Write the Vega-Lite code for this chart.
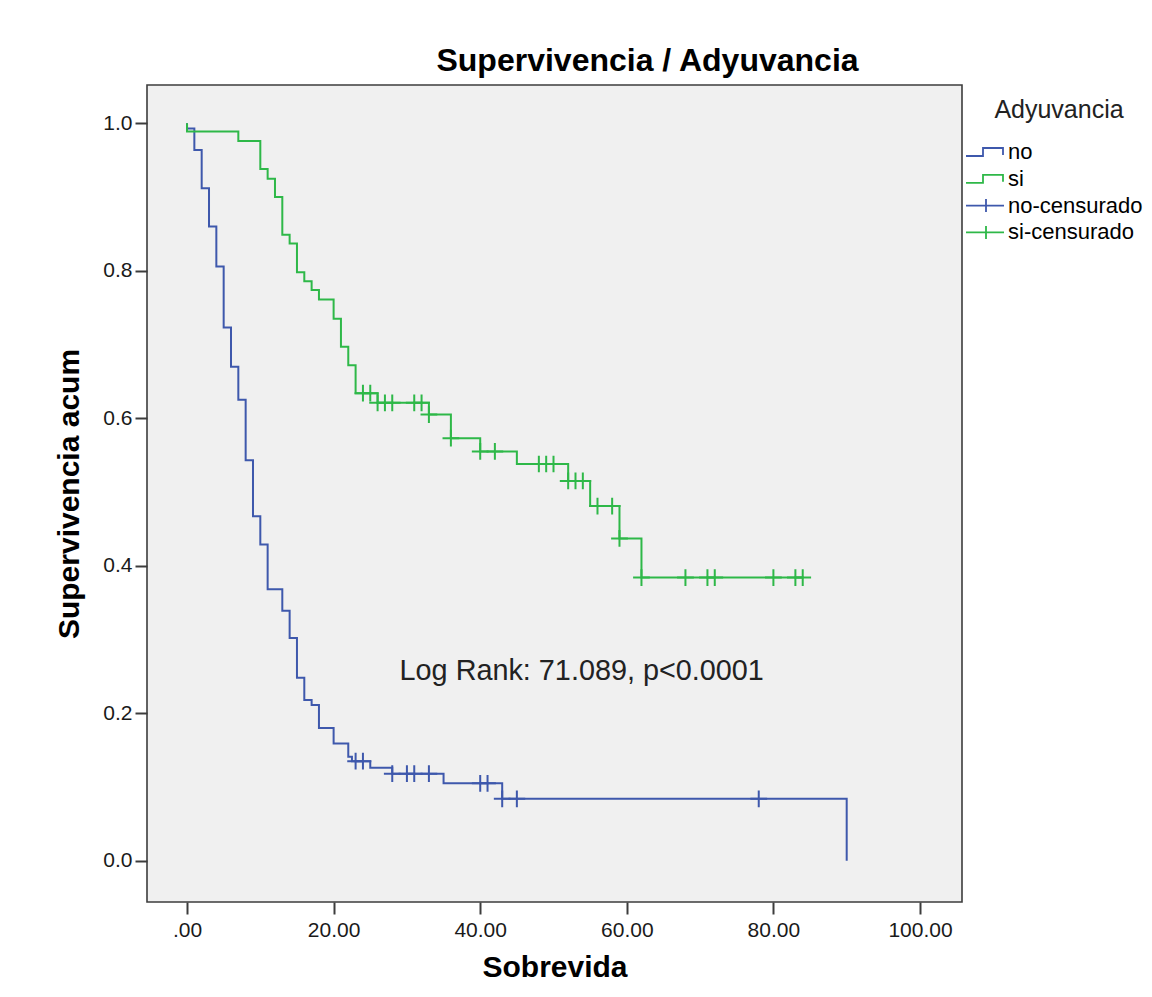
{
  "$schema": "https://vega.github.io/schema/vega-lite/v6.json",
  "width": 815,
  "height": 817,
  "autosize": {"type": "none"},
  "padding": {"left": 147, "top": 85, "right": 190, "bottom": 95},
  "background": "white",
  "config": {
    "view": {"fill": "#f0f0f0", "stroke": "#3c3c3c", "strokeWidth": 1.6},
    "font": "Liberation Sans"
  },
  "title": {
    "text": "Supervivencia / Adyuvancia",
    "fontSize": 32,
    "font": "Liberation Sans",
    "fontWeight": "bold",
    "color": "black",
    "anchor": "middle",
    "dx": 93,
    "offset": 7
  },
  "datasets": {
    "curva": [
      {"t": 0, "S": 1.0, "serie": "no"},
      {"t": 0, "S": 0.993, "serie": "no"},
      {"t": 1, "S": 0.964, "serie": "no"},
      {"t": 2, "S": 0.912, "serie": "no"},
      {"t": 3, "S": 0.86, "serie": "no"},
      {"t": 4, "S": 0.806, "serie": "no"},
      {"t": 5, "S": 0.723, "serie": "no"},
      {"t": 6, "S": 0.67, "serie": "no"},
      {"t": 7, "S": 0.625, "serie": "no"},
      {"t": 8, "S": 0.543, "serie": "no"},
      {"t": 9, "S": 0.467, "serie": "no"},
      {"t": 10, "S": 0.429, "serie": "no"},
      {"t": 11, "S": 0.368, "serie": "no"},
      {"t": 13, "S": 0.339, "serie": "no"},
      {"t": 14, "S": 0.302, "serie": "no"},
      {"t": 15, "S": 0.248, "serie": "no"},
      {"t": 16, "S": 0.218, "serie": "no"},
      {"t": 17, "S": 0.211, "serie": "no"},
      {"t": 18, "S": 0.18, "serie": "no"},
      {"t": 20, "S": 0.159, "serie": "no"},
      {"t": 22, "S": 0.141, "serie": "no"},
      {"t": 22.5, "S": 0.135, "serie": "no"},
      {"t": 25, "S": 0.126, "serie": "no"},
      {"t": 28, "S": 0.118, "serie": "no"},
      {"t": 35, "S": 0.105, "serie": "no"},
      {"t": 43, "S": 0.084, "serie": "no"},
      {"t": 90, "S": 0.0, "serie": "no"},
      {"t": 0, "S": 1.0, "serie": "si"},
      {"t": 0, "S": 0.989, "serie": "si"},
      {"t": 7, "S": 0.976, "serie": "si"},
      {"t": 10, "S": 0.938, "serie": "si"},
      {"t": 11, "S": 0.925, "serie": "si"},
      {"t": 12, "S": 0.9, "serie": "si"},
      {"t": 13, "S": 0.849, "serie": "si"},
      {"t": 14, "S": 0.837, "serie": "si"},
      {"t": 15, "S": 0.798, "serie": "si"},
      {"t": 16, "S": 0.786, "serie": "si"},
      {"t": 17, "S": 0.774, "serie": "si"},
      {"t": 18, "S": 0.761, "serie": "si"},
      {"t": 20, "S": 0.735, "serie": "si"},
      {"t": 21, "S": 0.697, "serie": "si"},
      {"t": 22, "S": 0.672, "serie": "si"},
      {"t": 23, "S": 0.634, "serie": "si"},
      {"t": 26, "S": 0.621, "serie": "si"},
      {"t": 33, "S": 0.605, "serie": "si"},
      {"t": 36, "S": 0.573, "serie": "si"},
      {"t": 40, "S": 0.555, "serie": "si"},
      {"t": 45, "S": 0.538, "serie": "si"},
      {"t": 52, "S": 0.515, "serie": "si"},
      {"t": 55, "S": 0.481, "serie": "si"},
      {"t": 59, "S": 0.437, "serie": "si"},
      {"t": 62, "S": 0.384, "serie": "si"},
      {"t": 84, "S": 0.384, "serie": "si"}
    ],
    "censura": [
      {"t": 23, "S": 0.135, "serie": "no-censurado"},
      {"t": 24, "S": 0.135, "serie": "no-censurado"},
      {"t": 28, "S": 0.118, "serie": "no-censurado"},
      {"t": 30, "S": 0.118, "serie": "no-censurado"},
      {"t": 31, "S": 0.118, "serie": "no-censurado"},
      {"t": 33, "S": 0.118, "serie": "no-censurado"},
      {"t": 40, "S": 0.105, "serie": "no-censurado"},
      {"t": 41, "S": 0.105, "serie": "no-censurado"},
      {"t": 43, "S": 0.084, "serie": "no-censurado"},
      {"t": 45, "S": 0.084, "serie": "no-censurado"},
      {"t": 78, "S": 0.084, "serie": "no-censurado"},
      {"t": 24, "S": 0.634, "serie": "si-censurado"},
      {"t": 25, "S": 0.634, "serie": "si-censurado"},
      {"t": 26, "S": 0.621, "serie": "si-censurado"},
      {"t": 27, "S": 0.621, "serie": "si-censurado"},
      {"t": 28, "S": 0.621, "serie": "si-censurado"},
      {"t": 31, "S": 0.621, "serie": "si-censurado"},
      {"t": 32, "S": 0.621, "serie": "si-censurado"},
      {"t": 33, "S": 0.605, "serie": "si-censurado"},
      {"t": 36, "S": 0.573, "serie": "si-censurado"},
      {"t": 40, "S": 0.555, "serie": "si-censurado"},
      {"t": 42, "S": 0.555, "serie": "si-censurado"},
      {"t": 48, "S": 0.538, "serie": "si-censurado"},
      {"t": 49, "S": 0.538, "serie": "si-censurado"},
      {"t": 50, "S": 0.538, "serie": "si-censurado"},
      {"t": 52, "S": 0.515, "serie": "si-censurado"},
      {"t": 53, "S": 0.515, "serie": "si-censurado"},
      {"t": 54, "S": 0.515, "serie": "si-censurado"},
      {"t": 56, "S": 0.481, "serie": "si-censurado"},
      {"t": 58, "S": 0.481, "serie": "si-censurado"},
      {"t": 59, "S": 0.437, "serie": "si-censurado"},
      {"t": 62, "S": 0.384, "serie": "si-censurado"},
      {"t": 68, "S": 0.384, "serie": "si-censurado"},
      {"t": 71, "S": 0.384, "serie": "si-censurado"},
      {"t": 72, "S": 0.384, "serie": "si-censurado"},
      {"t": 80, "S": 0.384, "serie": "si-censurado"},
      {"t": 83, "S": 0.384, "serie": "si-censurado"},
      {"t": 84, "S": 0.384, "serie": "si-censurado"}
    ],
    "nota": [
      {"t": 29.0, "S": 0.257, "texto": "Log Rank: 71.089, p<0.0001"}
    ]
  },
  "encoding": {
    "x": {
      "field": "t",
      "type": "quantitative",
      "scale": {"domain": [-5.46, 105.73], "nice": false, "zero": false},
      "axis": {
        "title": "Sobrevida",
        "values": [0, 20, 40, 60, 80, 100],
        "labelExpr": "datum.value == 0 ? '.00' : format(datum.value, '.2f')",
        "titleFontSize": 30,
        "titleFontWeight": "bold",
        "titleColor": "black",
        "titleFont": "Liberation Sans",
        "labelFont": "Liberation Sans",
        "labelFontSize": 21,
        "labelColor": "#1a1a1a",
        "labelPadding": 5,
        "titlePadding": 12,
        "tickSize": 12,
        "tickWidth": 2,
        "tickColor": "#3c3c3c",
        "domain": false,
        "grid": false
      }
    },
    "y": {
      "field": "S",
      "type": "quantitative",
      "scale": {"domain": [-0.056, 1.052], "nice": false, "zero": false},
      "axis": {
        "title": "Supervivencia acum",
        "values": [0, 0.2, 0.4, 0.6, 0.8, 1.0],
        "format": ".1f",
        "titleFontSize": 30,
        "titleFontWeight": "bold",
        "titleColor": "black",
        "titleFont": "Liberation Sans",
        "labelFont": "Liberation Sans",
        "labelFontSize": 21,
        "labelColor": "#1a1a1a",
        "labelPadding": 3,
        "titlePadding": 18,
        "tickSize": 12,
        "tickWidth": 2,
        "tickColor": "#3c3c3c",
        "domain": false,
        "grid": false
      }
    }
  },
  "layer": [
    {
      "data": {"name": "curva"},
      "mark": {"type": "line", "interpolate": "step-after", "strokeWidth": 2},
      "encoding": {
        "color": {
          "field": "serie",
          "type": "nominal",
          "scale": {
            "domain": ["no", "si", "no-censurado", "si-censurado"],
            "range": ["#3e58ac", "#2eb848", "#3e58ac", "#2eb848"]
          },
          "legend": {
            "title": "Adyuvancia",
            "orient": "none",
            "legendX": 828,
            "legendY": 13,
            "padding": 0,
            "titleFontSize": 25,
            "titleFontWeight": "normal",
            "titleColor": "#222222",
            "titleFont": "Liberation Sans",
            "titleAnchor": "middle",
            "titlePadding": 18,
            "labelFont": "Liberation Sans",
            "labelFontSize": 22,
            "labelColor": "black",
            "labelOffset": 11,
            "rowPadding": 4.8,
            "symbolSize": 400,
            "symbolStrokeWidth": 1.8,
            "symbolFillColor": "transparent",
            "encode": {
              "symbols": {
                "update": {
                  "shape": {"signal": "indexof(['no','si'], datum.value) >= 0 ? 'M-2,0.4H-0.3V-0.4H1.7V0.3' : 'M-2,0H1.8M0,-0.65V0.65'"},
                  "fill": {"value": "transparent"}
                }
              }
            }
          }
        }
      }
    },
    {
      "data": {"name": "censura"},
      "mark": {"type": "point", "shape": "M-1,0H1M0,-1V1", "size": 280, "filled": false, "strokeWidth": 2, "opacity": 1},
      "encoding": {
        "color": {"field": "serie", "type": "nominal"}
      }
    },
    {
      "data": {"name": "nota"},
      "mark": {"type": "text", "align": "left", "baseline": "middle", "fontSize": 28.8, "font": "Liberation Sans", "color": "#222222"},
      "encoding": {
        "text": {"field": "texto"}
      }
    }
  ]
}
